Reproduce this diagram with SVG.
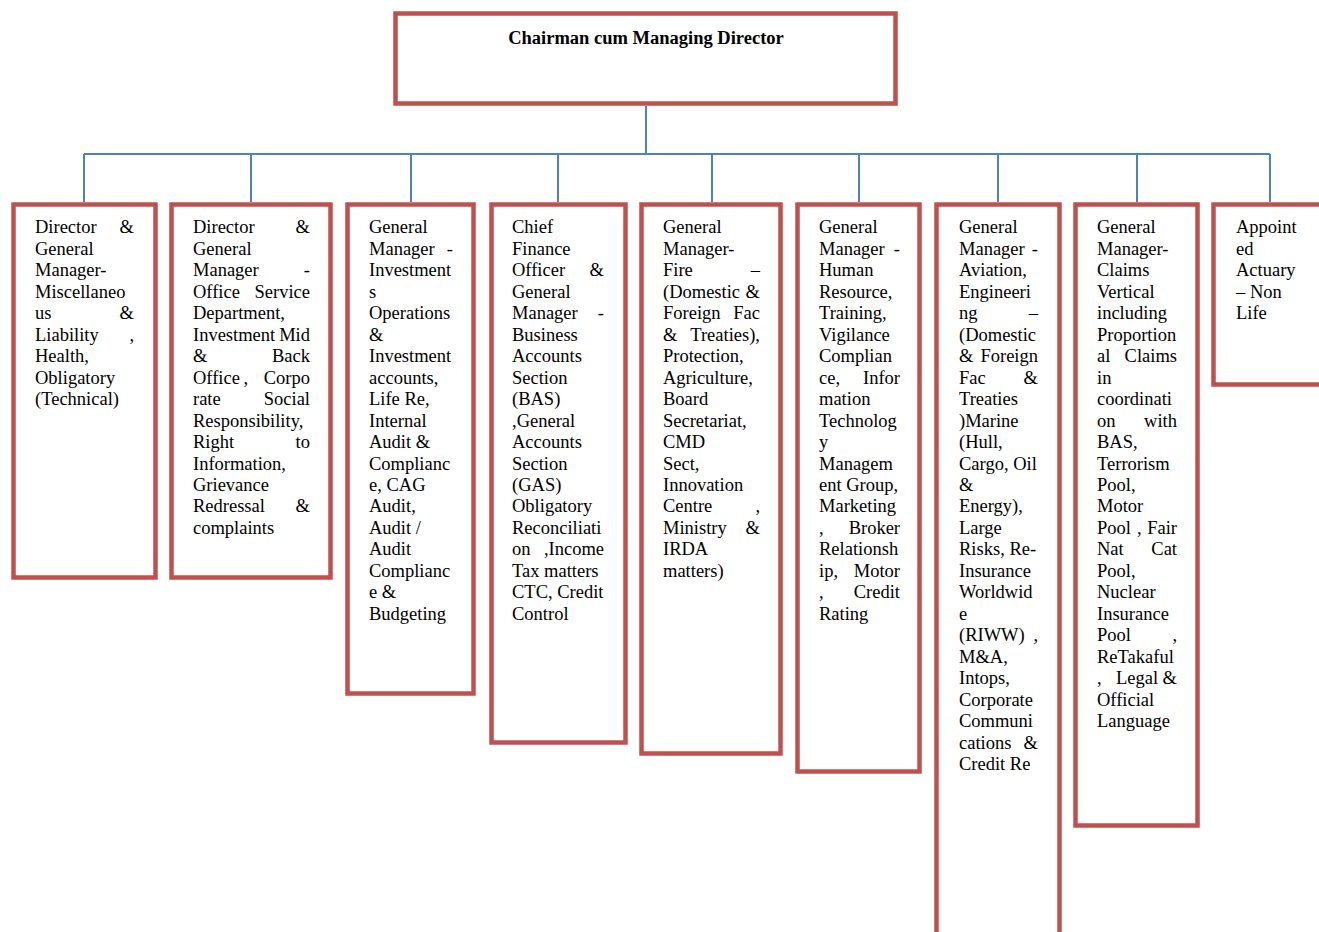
<svg xmlns="http://www.w3.org/2000/svg" width="1319" height="932" viewBox="0 0 1319 932">
<style>
.box{fill:#fff;stroke:#C0504D;stroke-width:4.5}
.t{font-family:"Liberation Serif","Times New Roman",serif;font-size:18.5px;fill:#000}
.r{text-anchor:end}
.title{font-family:"Liberation Serif","Times New Roman",serif;font-size:18.5px;font-weight:bold;fill:#000;text-anchor:middle}
.c{fill:none;stroke:#4F81BD;stroke-width:2}
</style>
<rect width="1319" height="932" fill="#fff"/>
<g id="connectors">
<path class="c" d="M646 106V154M84 154H1270M84 154V202M251 154V202M411 154V202M558 154V202M712 154V202M859 154V202M998 154V202M1137 154V202M1270 154V202"/>
</g>
<g id="cmd">
<rect class="box" x="395.5" y="13.5" width="500" height="90"/>
<text class="title" x="646" y="44">Chairman cum Managing Director</text>
</g>
<g id="n1">
<rect class="box" x="13.5" y="204.5" width="142" height="373"/>
<text class="t" x="35" y="233">Director</text><text class="t r" x="134" y="233">&amp;</text>
<text class="t" x="35" y="254.5">General</text>
<text class="t" x="35" y="276">Manager-</text>
<text class="t" x="35" y="297.5">Miscellaneo</text>
<text class="t" x="35" y="319">us</text><text class="t r" x="134" y="319">&amp;</text>
<text class="t" x="35" y="340.5">Liability</text><text class="t r" x="134" y="340.5">,</text>
<text class="t" x="35" y="362">Health,</text>
<text class="t" x="35" y="383.5">Obligatory</text>
<text class="t" x="35" y="405">(Technical)</text>
</g>
<g id="n2">
<rect class="box" x="171.5" y="204.5" width="159" height="373"/>
<text class="t" x="193" y="233">Director</text><text class="t r" x="310" y="233">&amp;</text>
<text class="t" x="193" y="254.5">General</text>
<text class="t" x="193" y="276">Manager</text><text class="t r" x="310" y="276">-</text>
<text class="t" x="193" y="297.5">Office</text><text class="t r" x="310" y="297.5">Service</text>
<text class="t" x="193" y="319">Department,</text>
<text class="t" x="193" y="340.5">Investment</text><text class="t r" x="310" y="340.5">Mid</text>
<text class="t" x="193" y="362">&amp;</text><text class="t r" x="310" y="362">Back</text>
<text class="t" x="193" y="383.5">Office</text><text class="t" x="243.5" y="383.5">,</text><text class="t r" x="310" y="383.5">Corpo</text>
<text class="t" x="193" y="405">rate</text><text class="t r" x="310" y="405">Social</text>
<text class="t" x="193" y="426.5">Responsibility,</text>
<text class="t" x="193" y="448">Right</text><text class="t r" x="310" y="448">to</text>
<text class="t" x="193" y="469.5">Information,</text>
<text class="t" x="193" y="491">Grievance</text>
<text class="t" x="193" y="512">Redressal</text><text class="t r" x="310" y="512">&amp;</text>
<text class="t" x="193" y="533.5">complaints</text>
</g>
<g id="n3">
<rect class="box" x="347.5" y="204.5" width="126" height="489"/>
<text class="t" x="369" y="233">General</text>
<text class="t" x="369" y="254.5">Manager</text><text class="t r" x="453" y="254.5">-</text>
<text class="t" x="369" y="276">Investment</text>
<text class="t" x="369" y="297.5">s</text>
<text class="t" x="369" y="319">Operations</text>
<text class="t" x="369" y="340.5">&amp;</text>
<text class="t" x="369" y="362">Investment</text>
<text class="t" x="369" y="383.5">accounts,</text>
<text class="t" x="369" y="405">Life Re,</text>
<text class="t" x="369" y="426.5">Internal</text>
<text class="t" x="369" y="448">Audit &amp;</text>
<text class="t" x="369" y="469.5">Complianc</text>
<text class="t" x="369" y="491">e, CAG</text>
<text class="t" x="369" y="512">Audit,</text>
<text class="t" x="369" y="533.5">Audit /</text>
<text class="t" x="369" y="555">Audit</text>
<text class="t" x="369" y="576.5">Complianc</text>
<text class="t" x="369" y="598">e &amp;</text>
<text class="t" x="369" y="619.5">Budgeting</text>
</g>
<g id="n4">
<rect class="box" x="491.5" y="204.5" width="134" height="538"/>
<text class="t" x="512" y="233">Chief</text>
<text class="t" x="512" y="254.5">Finance</text>
<text class="t" x="512" y="276">Officer</text><text class="t r" x="604" y="276">&amp;</text>
<text class="t" x="512" y="297.5">General</text>
<text class="t" x="512" y="319">Manager</text><text class="t r" x="604" y="319">-</text>
<text class="t" x="512" y="340.5">Business</text>
<text class="t" x="512" y="362">Accounts</text>
<text class="t" x="512" y="383.5">Section</text>
<text class="t" x="512" y="405">(BAS)</text>
<text class="t" x="512" y="426.5">,General</text>
<text class="t" x="512" y="448">Accounts</text>
<text class="t" x="512" y="469.5">Section</text>
<text class="t" x="512" y="491">(GAS)</text>
<text class="t" x="512" y="512">Obligatory</text>
<text class="t" x="512" y="533.5">Reconciliati</text>
<text class="t" x="512" y="555">on</text><text class="t r" x="604" y="555">,Income</text>
<text class="t" x="512" y="576.5">Tax matters</text>
<text class="t" x="512" y="598">CTC, Credit</text>
<text class="t" x="512" y="619.5">Control</text>
</g>
<g id="n5">
<rect class="box" x="641.5" y="204.5" width="139" height="549"/>
<text class="t" x="663" y="233">General</text>
<text class="t" x="663" y="254.5">Manager-</text>
<text class="t" x="663" y="276">Fire</text><text class="t r" x="760" y="276">–</text>
<text class="t" x="663" y="297.5">(Domestic</text><text class="t r" x="760" y="297.5">&amp;</text>
<text class="t" x="663" y="319">Foreign</text><text class="t r" x="760" y="319">Fac</text>
<text class="t" x="663" y="340.5">&amp;</text><text class="t r" x="760" y="340.5">Treaties),</text>
<text class="t" x="663" y="362">Protection,</text>
<text class="t" x="663" y="383.5">Agriculture,</text>
<text class="t" x="663" y="405">Board</text>
<text class="t" x="663" y="426.5">Secretariat,</text>
<text class="t" x="663" y="448">CMD</text>
<text class="t" x="663" y="469.5">Sect,</text>
<text class="t" x="663" y="491">Innovation</text>
<text class="t" x="663" y="512">Centre</text><text class="t r" x="760" y="512">,</text>
<text class="t" x="663" y="533.5">Ministry</text><text class="t r" x="760" y="533.5">&amp;</text>
<text class="t" x="663" y="555">IRDA</text>
<text class="t" x="663" y="576.5">matters)</text>
</g>
<g id="n6">
<rect class="box" x="797.5" y="204.5" width="122" height="567"/>
<text class="t" x="819" y="233">General</text>
<text class="t" x="819" y="254.5">Manager</text><text class="t r" x="900" y="254.5">-</text>
<text class="t" x="819" y="276">Human</text>
<text class="t" x="819" y="297.5">Resource,</text>
<text class="t" x="819" y="319">Training,</text>
<text class="t" x="819" y="340.5">Vigilance</text>
<text class="t" x="819" y="362">Complian</text>
<text class="t" x="819" y="383.5">ce,</text><text class="t r" x="900" y="383.5">Infor</text>
<text class="t" x="819" y="405">mation</text>
<text class="t" x="819" y="426.5">Technolog</text>
<text class="t" x="819" y="448">y</text>
<text class="t" x="819" y="469.5">Managem</text>
<text class="t" x="819" y="491">ent Group,</text>
<text class="t" x="819" y="512">Marketing</text>
<text class="t" x="819" y="533.5">,</text><text class="t r" x="900" y="533.5">Broker</text>
<text class="t" x="819" y="555">Relationsh</text>
<text class="t" x="819" y="576.5">ip,</text><text class="t r" x="900" y="576.5">Motor</text>
<text class="t" x="819" y="598">,</text><text class="t r" x="900" y="598">Credit</text>
<text class="t" x="819" y="619.5">Rating</text>
</g>
<g id="n7">
<rect class="box" x="936.5" y="204.5" width="123" height="740"/>
<text class="t" x="959" y="233">General</text>
<text class="t" x="959" y="254.5">Manager</text><text class="t r" x="1038" y="254.5">-</text>
<text class="t" x="959" y="276">Aviation,</text>
<text class="t" x="959" y="297.5">Engineeri</text>
<text class="t" x="959" y="319">ng</text><text class="t r" x="1038" y="319">–</text>
<text class="t" x="959" y="340.5">(Domestic</text>
<text class="t" x="959" y="362">&amp;</text><text class="t r" x="1038" y="362">Foreign</text>
<text class="t" x="959" y="383.5">Fac</text><text class="t r" x="1038" y="383.5">&amp;</text>
<text class="t" x="959" y="405">Treaties</text>
<text class="t" x="959" y="426.5">)Marine</text>
<text class="t" x="959" y="448">(Hull,</text>
<text class="t" x="959" y="469.5">Cargo, Oil</text>
<text class="t" x="959" y="491">&amp;</text>
<text class="t" x="959" y="512">Energy),</text>
<text class="t" x="959" y="533.5">Large</text>
<text class="t" x="959" y="555">Risks, Re-</text>
<text class="t" x="959" y="576.5">Insurance</text>
<text class="t" x="959" y="598">Worldwid</text>
<text class="t" x="959" y="619.5">e</text>
<text class="t" x="959" y="641">(RIWW)</text><text class="t r" x="1038" y="641">,</text>
<text class="t" x="959" y="662.5">M&amp;A,</text>
<text class="t" x="959" y="684">Intops,</text>
<text class="t" x="959" y="705.5">Corporate</text>
<text class="t" x="959" y="727">Communi</text>
<text class="t" x="959" y="748.5">cations</text><text class="t r" x="1038" y="748.5">&amp;</text>
<text class="t" x="959" y="770">Credit Re</text>
</g>
<g id="n8">
<rect class="box" x="1075.5" y="204.5" width="122" height="621"/>
<text class="t" x="1097" y="233">General</text>
<text class="t" x="1097" y="254.5">Manager-</text>
<text class="t" x="1097" y="276">Claims</text>
<text class="t" x="1097" y="297.5">Vertical</text>
<text class="t" x="1097" y="319">including</text>
<text class="t" x="1097" y="340.5">Proportion</text>
<text class="t" x="1097" y="362">al</text><text class="t r" x="1177" y="362">Claims</text>
<text class="t" x="1097" y="383.5">in</text>
<text class="t" x="1097" y="405">coordinati</text>
<text class="t" x="1097" y="426.5">on</text><text class="t r" x="1177" y="426.5">with</text>
<text class="t" x="1097" y="448">BAS,</text>
<text class="t" x="1097" y="469.5">Terrorism</text>
<text class="t" x="1097" y="491">Pool,</text>
<text class="t" x="1097" y="512">Motor</text>
<text class="t" x="1097" y="533.5">Pool</text><text class="t" x="1137" y="533.5">,</text><text class="t r" x="1177" y="533.5">Fair</text>
<text class="t" x="1097" y="555">Nat</text><text class="t r" x="1177" y="555">Cat</text>
<text class="t" x="1097" y="576.5">Pool,</text>
<text class="t" x="1097" y="598">Nuclear</text>
<text class="t" x="1097" y="619.5">Insurance</text>
<text class="t" x="1097" y="641">Pool</text><text class="t r" x="1177" y="641">,</text>
<text class="t" x="1097" y="662.5">ReTakaful</text>
<text class="t" x="1097" y="684">,</text><text class="t" x="1116" y="684">Legal</text><text class="t r" x="1177" y="684">&amp;</text>
<text class="t" x="1097" y="705.5">Official</text>
<text class="t" x="1097" y="727">Language</text>
</g>
<g id="n9">
<rect class="box" x="1213.5" y="204.5" width="120" height="180"/>
<text class="t" x="1236" y="233">Appoint</text>
<text class="t" x="1236" y="254.5">ed</text>
<text class="t" x="1236" y="276">Actuary</text>
<text class="t" x="1236" y="297.5">– Non</text>
<text class="t" x="1236" y="319">Life</text>
</g>
</svg>
